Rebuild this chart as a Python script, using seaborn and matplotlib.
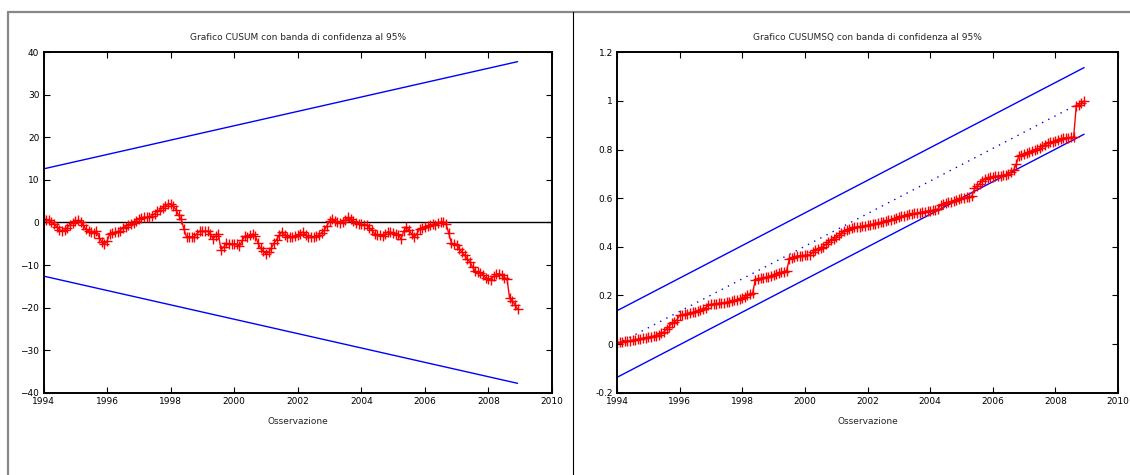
import matplotlib
matplotlib.use("Agg")
import matplotlib.pyplot as plt
from matplotlib.lines import Line2D
from matplotlib.ticker import FormatStrFormatter, MultipleLocator
import seaborn as sns
import pandas as pd
import numpy as np

# ---------------------------
# DATA (monthly, Jan 1994 - Dec 2008)
# ---------------------------
start_year = 1994
n_obs = 180

cusum = [
    0.9, 0.7, 0.5, 0.2, -0.4, -1.0, -1.7, -2.0, -1.8, -1.2, -0.5, -0.1,           # 1994
    0.3, 0.5, 0.2, -0.6, -1.6, -1.9, -2.3, -2.4, -2.0, -3.6, -4.5, -5.0,          # 1995
    -4.4, -2.6, -2.4, -2.3, -2.2, -1.9, -1.2, -1.0, -0.6, -0.4, -0.1, 0.4,        # 1996
    0.9, 1.0, 1.3, 1.2, 1.3, 1.6, 2.1, 2.6, 3.0, 3.5, 3.9, 4.3,                   # 1997
    4.4, 3.8, 3.0, 1.7, 0.8, -1.5, -3.4, -3.3, -3.4, -3.3, -2.6, -2.0,            # 1998
    -2.0, -2.1, -2.0, -2.8, -3.8, -3.2, -2.6, -6.4, -5.8, -4.9, -5.0, -5.1,       # 1999
    -5.0, -5.1, -5.6, -4.2, -3.2, -3.3, -3.0, -2.7, -3.2, -4.8, -6.1, -6.8,       # 2000
    -7.3, -7.0, -6.0, -4.9, -4.0, -3.0, -2.2, -2.9, -3.5, -3.3, -3.4, -3.2,       # 2001
    -3.0, -2.6, -2.2, -2.9, -3.5, -3.4, -3.3, -3.2, -2.9, -2.4, -1.8, -0.8,       # 2002
    0.4, 0.9, 0.3, 0.1, -0.1, 0.2, 0.7, 1.2, 0.8, 0.4, -0.2, -0.3,               # 2003
    -0.4, -0.6, -0.6, -1.2, -1.8, -2.6, -2.9, -3.0, -3.2, -2.8, -2.2, -2.3,       # 2004
    -2.5, -2.6, -3.0, -3.8, -2.0, -1.0, -1.8, -2.7, -3.5, -2.6, -1.6, -1.4,       # 2005
    -1.0, -0.9, -0.6, -0.4, -0.5, -0.1, 0.1, 0.2, -0.4, -2.5, -4.8, -5.1,         # 2006
    -5.3, -6.2, -7.0, -7.7, -8.6, -9.3, -10.5, -11.5, -11.6, -11.8, -12.4, -13.0, # 2007
    -13.2, -13.4, -12.6, -12.2, -12.0, -12.4, -13.0, -13.2, -17.8, -18.4, -19.3, -20.4,  # 2008
]

cusumsq = [
    0.005, 0.007, 0.009, 0.011, 0.013, 0.014, 0.016, 0.018, 0.020, 0.022, 0.024, 0.026,
    0.028, 0.030, 0.033, 0.035, 0.038, 0.044, 0.050, 0.062, 0.072, 0.085, 0.090, 0.100,
    0.118, 0.120, 0.122, 0.125, 0.128, 0.130, 0.133, 0.136, 0.140, 0.145, 0.150, 0.160,
    0.163, 0.165, 0.166, 0.167, 0.168, 0.170, 0.172, 0.175, 0.178, 0.180, 0.183, 0.187,
    0.190, 0.195, 0.200, 0.205, 0.210, 0.265, 0.268, 0.270, 0.272, 0.275, 0.277, 0.280,
    0.284, 0.288, 0.292, 0.295, 0.298, 0.302, 0.348, 0.352, 0.358, 0.362, 0.363, 0.364,
    0.365, 0.366, 0.367, 0.378, 0.388, 0.392, 0.396, 0.400, 0.410, 0.420, 0.428, 0.433,
    0.440, 0.447, 0.455, 0.463, 0.470, 0.474, 0.477, 0.480, 0.482, 0.483, 0.485, 0.487,
    0.489, 0.491, 0.493, 0.495, 0.498, 0.500, 0.503, 0.506, 0.509, 0.511, 0.514, 0.518,
    0.522, 0.525, 0.528, 0.531, 0.533, 0.535, 0.537, 0.539, 0.541, 0.543, 0.545, 0.547,
    0.549, 0.550, 0.552, 0.556, 0.570, 0.576, 0.580, 0.583, 0.586, 0.590, 0.594, 0.598,
    0.600, 0.602, 0.604, 0.606, 0.608, 0.640, 0.650, 0.660, 0.672, 0.678, 0.684, 0.687,
    0.689, 0.690, 0.691, 0.692, 0.694, 0.696, 0.700, 0.708, 0.716, 0.740, 0.775, 0.778,
    0.782, 0.787, 0.790, 0.794, 0.798, 0.801, 0.806, 0.815, 0.820, 0.825, 0.829, 0.833,
    0.837, 0.840, 0.844, 0.847, 0.848, 0.849, 0.850, 0.851, 0.980, 0.985, 0.990, 1.000,
]

# confidence bands (value at first and last observation)
cusum_upper = [12.6, 37.8]
cusum_lower = [-12.6, -37.8]
cusumsq_mean = [0.0, 1.0]
cusumsq_upper = [0.137, 1.137]
cusumsq_lower = [-0.137, 0.863]

title_cusum = "Grafico CUSUM con banda di confidenza al 95%"
title_cusumsq = "Grafico CUSUMSQ con banda di confidenza al 95%"
x_label = "Osservazione"

# ---------------------------
# PREP
# ---------------------------
dates = start_year + np.arange(n_obs) / 12.0
df = pd.DataFrame({"t": dates, "cusum": cusum, "cusumsq": cusumsq})
band_t = [dates[0], dates[-1]]

sns.set_style("ticks")
plt.rcParams["font.family"] = ["DejaVu Sans"]
plt.rcParams["font.size"] = 6.5

fig = plt.figure(figsize=(11.3, 4.75), dpi=100)
ax1 = fig.add_axes([0.0385, 0.1733, 0.45, 0.7166])
ax2 = fig.add_axes([0.546, 0.1733, 0.4434, 0.7166])

# left: CUSUM
sns.lineplot(x=band_t, y=cusum_upper, ax=ax1, color="#0000ff", linewidth=1)
sns.lineplot(x=band_t, y=cusum_lower, ax=ax1, color="#0000ff", linewidth=1)
ax1.axhline(0, color="black", linewidth=1)
sns.lineplot(data=df, x="t", y="cusum", ax=ax1, color="#ff0000", linewidth=1,
             marker="+", markersize=7, markeredgewidth=1, markeredgecolor="#ff0000")
ax1.set_ylim(-40, 40)
ax1.yaxis.set_major_locator(MultipleLocator(10))
ax1.set_title(title_cusum, fontsize=6.5, pad=9)

# right: CUSUMSQ
sns.lineplot(x=band_t, y=cusumsq_upper, ax=ax2, color="#0000ff", linewidth=1)
sns.lineplot(x=band_t, y=cusumsq_lower, ax=ax2, color="#0000ff", linewidth=1)
ax2.plot(band_t, cusumsq_mean, color="#0000ff", linewidth=1, linestyle=(0, (1, 4)))
sns.lineplot(data=df, x="t", y="cusumsq", ax=ax2, color="#ff0000", linewidth=1,
             marker="+", markersize=7, markeredgewidth=1, markeredgecolor="#ff0000")
ax2.set_ylim(-0.2, 1.2)
ax2.yaxis.set_major_locator(MultipleLocator(0.2))
ax2.yaxis.set_major_formatter(FormatStrFormatter("%g"))
ax2.set_title(title_cusumsq, fontsize=6.5, pad=9)

for ax in (ax1, ax2):
    ax.set_xlim(1994, 2010)
    ax.xaxis.set_major_locator(MultipleLocator(2))
    ax.set_xlabel(x_label, fontsize=6.5, labelpad=8)
    ax.set_ylabel("")
    ax.tick_params(direction="in", length=4, width=0.8, top=True, right=True,
                   labelsize=6.5, colors="black", pad=3)
    for s in ax.spines.values():
        s.set_linewidth(1.4)
        s.set_color("black")

# outer frames of the two panels
top = 1 - 12 / 475
fig.add_artist(Line2D([8 / 1130, 1], [top, top], color="#888888", linewidth=1.6))
fig.add_artist(Line2D([8 / 1130, 8 / 1130], [0, top], color="#888888", linewidth=1.6))
fig.add_artist(Line2D([573 / 1130, 573 / 1130], [0, top], color="black", linewidth=0.8))

fig.savefig("out.png", dpi=100)
